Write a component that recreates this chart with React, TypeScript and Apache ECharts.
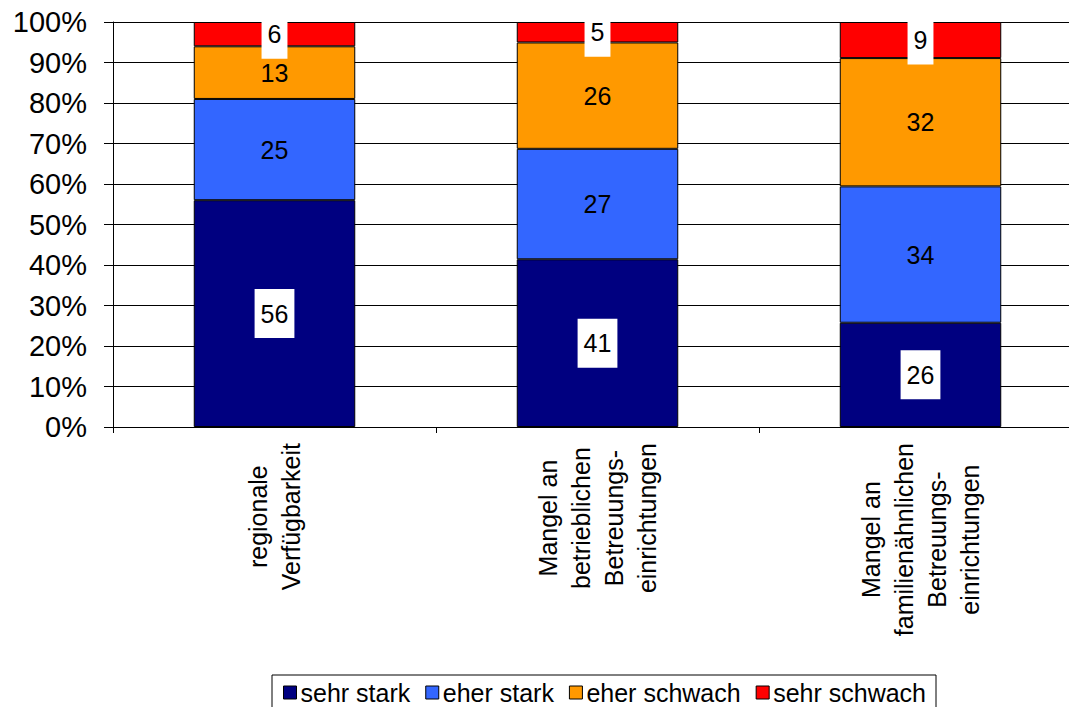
import React, { useEffect, useRef } from "react";
import * as echarts from "echarts";

const categories = [
  "regionale\nVerfügbarkeit",
  "Mangel an\nbetrieblichen\nBetreuungs-\neinrichtungen",
  "Mangel an\nfamilienähnlichen\nBetreuungs-\neinrichtungen",
];
const seriesNames = ["sehr stark", "eher stark", "eher schwach", "sehr schwach"];
const sehrStark = [56, 41, 26];
const eherStark = [25, 27, 34];
const eherSchwach = [13, 26, 32];
const sehrSchwach = [6, 5, 9];
const colors = ["#000080", "#3366FF", "#FF9900", "#FF0000"];
const yTicks = [0, 10, 20, 30, 40, 50, 60, 70, 80, 90, 100];

const FONT = "'Liberation Sans', Arial, sans-serif";

export default function App() {
  const ref = useRef<HTMLDivElement>(null);
  useEffect(() => {
    if (!ref.current) return;
    const chart = echarts.init(ref.current, null, { renderer: "svg" });
    const raw = [sehrStark, eherStark, eherSchwach, sehrSchwach];
    const totals = categories.map((_, i) => raw.reduce((s, arr) => s + arr[i], 0));
    const series = raw.map((arr, si) => ({
      name: seriesNames[si],
      type: "bar",
      stack: "total",
      barWidth: "50%",
      itemStyle: { color: colors[si], borderColor: "#000", borderWidth: 1 },
      label: {
        show: true,
        position: "inside",
        color: "#000",
        fontSize: 25,
        fontFamily: FONT,
        backgroundColor: si === 0 || si === 3 ? "#fff" : "transparent",
        padding: si === 0 || si === 3 ? [12, 6] : 0,
        formatter: (p: any) => String(arr[p.dataIndex]),
      },
      data: arr.map((v, i) => (v / totals[i]) * 100),
    }));
    chart.setOption({
      animation: false,
      textStyle: { fontFamily: FONT },
      grid: { left: 113, top: 22, width: 969, height: 405, containLabel: false },
      legend: {
        left: 272,
        top: 675,
        padding: [5, 10, 5, 11],
        borderColor: "#000",
        borderWidth: 1,
        icon: "rect",
        itemWidth: 13,
        itemHeight: 13,
        itemGap: 15,
        itemStyle: { borderColor: "#000", borderWidth: 1 },
        textStyle: { fontSize: 25, fontFamily: FONT, color: "#000", padding: [0, 0, 0, -1] },
        data: seriesNames,
      },
      xAxis: {
        type: "category",
        data: categories,
        axisLine: { lineStyle: { color: "#000", width: 1 } },
        axisTick: { show: true, length: 6, lineStyle: { color: "#000" } },
        axisLabel: {
          rotate: 90,
          align: "right",
          verticalAlign: "middle",
          margin: 16,
          color: "#000",
          fontFamily: FONT,
          fontSize: 25,
          lineHeight: 33,
          interval: 0,
          formatter: (v: string) =>
            v
              .split("\n")
              .map((s) => "{c|" + s + "}")
              .join("\n"),
          rich: {
            c: {
              align: "center",
              fontSize: 25,
              lineHeight: 33,
              fontFamily: FONT,
              color: "#000",
            },
          },
        },
      },
      yAxis: {
        type: "value",
        min: yTicks[0],
        max: yTicks[yTicks.length - 1],
        interval: 10,
        axisLine: { show: true, lineStyle: { color: "#000", width: 1 } },
        axisTick: { show: true, length: 9, lineStyle: { color: "#000" } },
        splitLine: { show: true, lineStyle: { color: "#000", width: 1 } },
        axisLabel: {
          formatter: "{value}%",
          fontSize: 29,
          color: "#000",
          fontFamily: FONT,
          margin: 26,
        },
      },
      series,
    });
    return () => chart.dispose();
  }, []);
  return (
    <div
      style={{
        position: "fixed",
        left: 0,
        top: 0,
        width: 1069,
        height: 707,
        overflow: "hidden",
        background: "#fff",
      }}
    >
      <div ref={ref} style={{ width: 1100, height: 707 }} />
    </div>
  );
}
